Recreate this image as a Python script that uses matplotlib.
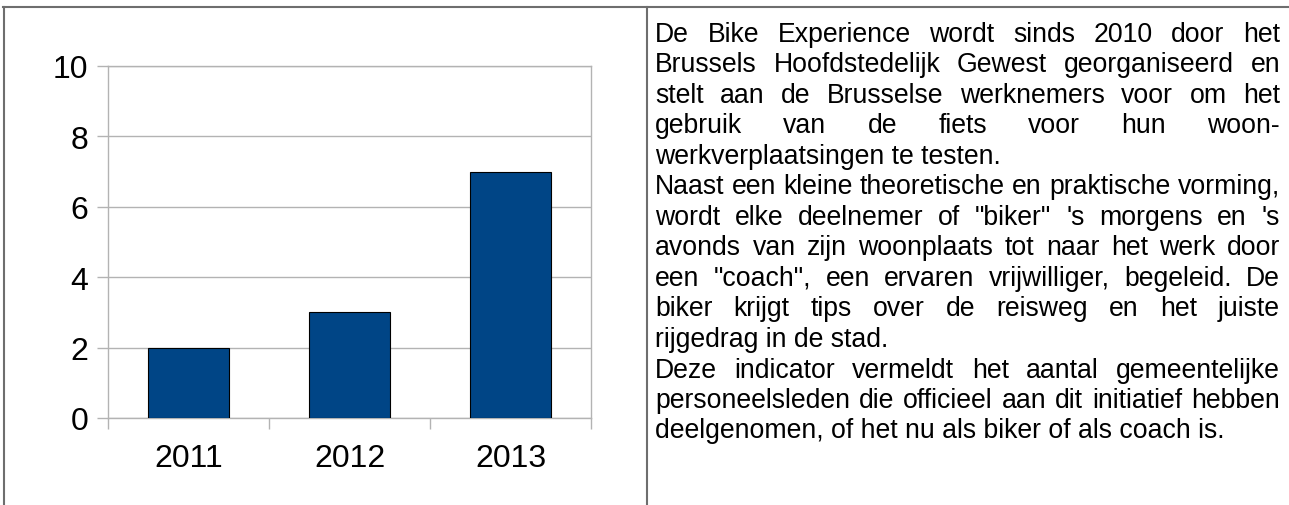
import matplotlib
matplotlib.use('Agg')
import matplotlib.pyplot as plt
from matplotlib.lines import Line2D
from matplotlib.ticker import FixedLocator

plt.rcParams['font.family'] = ['Liberation Sans', 'DejaVu Sans']

# data
jaren = ['2011', '2012', '2013']
deelnemers = [2, 3, 7]
y_ticks = [0, 2, 4, 6, 8, 10]

# text (line, justified?)
tekst = [
    ("De Bike Experience wordt sinds 2010 door het", True),
    ("Brussels Hoofdstedelijk Gewest georganiseerd en", True),
    ("stelt aan de Brusselse werknemers voor om het", True),
    ("gebruik van de fiets voor hun woon-", True),
    ("werkverplaatsingen te testen.", False),
    ("Naast een kleine theoretische en praktische vorming,", True),
    ("wordt elke deelnemer of \"biker\" 's morgens en 's", True),
    ("avonds van zijn woonplaats tot naar het werk door", True),
    ("een \"coach\", een ervaren vrijwilliger, begeleid. De", True),
    ("biker krijgt tips over de reisweg en het juiste", True),
    ("rijgedrag in de stad.", False),
    ("Deze indicator vermeldt het aantal gemeentelijke", True),
    ("personeelsleden die officieel aan dit initiatief hebben", True),
    ("deelgenomen, of het nu als biker of als coach is.", False),
]

W, H = 1289, 506
fig = plt.figure(figsize=(W / 100, H / 100), dpi=100)

# chart area in pixels
left, right, top, bottom = 108, 591, 67, 419
ax = fig.add_axes([left / W, (H - bottom) / H, (right - left) / W, (bottom - top) / H])

x = list(range(len(jaren)))
ax.bar(x, deelnemers, width=0.5, color='#004586', edgecolor='black', linewidth=0.8, zorder=3)
ax.set_xlim(-0.5, len(jaren) - 0.5)
ax.set_ylim(0, 10)
ax.set_yticks(y_ticks)
ax.set_yticklabels([str(v) for v in y_ticks])
ax.set_xticks(x)
ax.set_xticklabels(jaren)
ax.xaxis.set_minor_locator(FixedLocator([i - 0.5 for i in range(len(jaren) + 1)]))
ax.grid(axis='y', color='#b3b3b3', linewidth=1, zorder=0)
for s in ax.spines.values():
    s.set_color('#b3b3b3')
    s.set_linewidth(1)
ax.tick_params(axis='y', length=8, width=1, color='#b3b3b3', labelsize=23, pad=6)
ax.tick_params(axis='x', which='major', length=0, labelsize=23, pad=18)
ax.tick_params(axis='x', which='minor', length=8, width=1, color='#b3b3b3')

# panel borders
border = '#6e6e6e'
fig.add_artist(Line2D([3 / W, 1], [1 - 8 / H, 1 - 8 / H], color=border, lw=1.5))
fig.add_artist(Line2D([4 / W, 4 / W], [0, 1 - 8 / H], color=border, lw=1.5))
fig.add_artist(Line2D([647 / W, 647 / W], [0, 1 - 8 / H], color=border, lw=1.5))

# justified text block
tx0, tx1 = 655, 1280
base0, step = 42, 30.5
fs = 19.2
renderer = fig.canvas.get_renderer()
for i, (regel, uitvullen) in enumerate(tekst):
    yb = 1 - (base0 + i * step) / H
    if not uitvullen:
        fig.text(tx0 / W, yb, regel, fontsize=fs, va='baseline', ha='left')
        continue
    woorden = regel.split(' ')
    objs = [fig.text(0, yb, w, fontsize=fs, va='baseline', ha='left') for w in woorden]
    breedtes = [o.get_window_extent(renderer).width for o in objs]
    gap = (tx1 - tx0 - sum(breedtes)) / (len(woorden) - 1)
    xp = tx0
    for o, b in zip(objs, breedtes):
        o.set_x(xp / W)
        xp += b + gap

fig.savefig('out.png', dpi=100)
